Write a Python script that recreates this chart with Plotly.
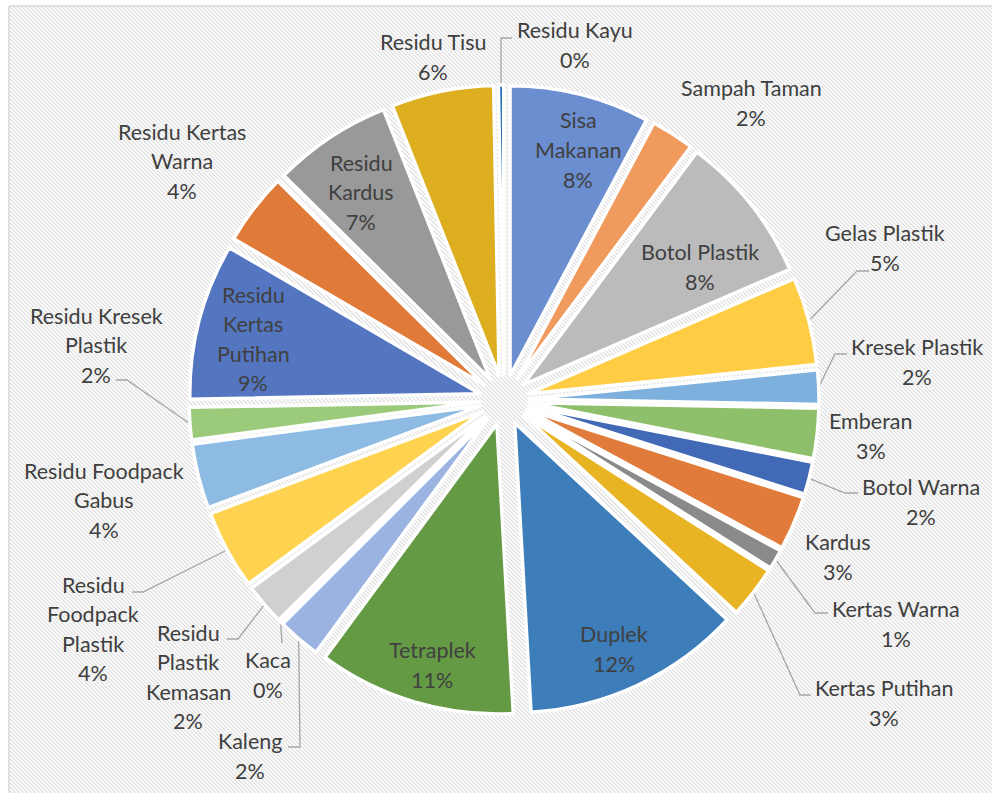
import base64
import math
import plotly.graph_objects as go

# ---------------- data ----------------
categories = [
    "Sisa Makanan", "Sampah Taman", "Botol Plastik", "Gelas Plastik", "Kresek Plastik",
    "Emberan", "Botol Warna", "Kardus", "Kertas Warna", "Kertas Putihan",
    "Duplek", "Tetraplek", "Kaleng", "Kaca", "Residu Plastik Kemasan",
    "Residu Foodpack Plastik", "Residu Foodpack Gabus", "Residu Kresek Plastik",
    "Residu Kertas Putihan", "Residu Kertas Warna", "Residu Kardus", "Residu Tisu", "Residu Kayu",
]
values = [
    7.8, 2.4, 8.3, 4.9, 1.9,
    2.8, 1.8, 3.0, 1.1, 2.9,
    12.2, 11.0, 2.4, 0.1, 2.3,
    4.4, 3.6, 1.8,
    8.7, 4.0, 6.6, 5.7, 0.3,
]

# ---------------- styles ----------------
colors = [
    "#6A8ED0", "#F19A5E", "#BBBBBB", "#FFCD44", "#7EB0DE",
    "#8EC06B", "#4169B5", "#E07B3C", "#8A8A8A", "#E8B424",
    "#3D7DBA", "#659A45", "#9BB3E0", "#F1975A", "#D0D0D0",
    "#FFD350", "#8DBBE3", "#9BCB7A",
    "#5476C0", "#E07A38", "#999999", "#DDAE20", "#2E75B6",
]

# label wrapping (name lines) - text layout only
label_lines = {
    "Sisa Makanan": ["Sisa", "Makanan"],
    "Residu Plastik Kemasan": ["Residu", "Plastik", "Kemasan"],
    "Residu Foodpack Plastik": ["Residu", "Foodpack", "Plastik"],
    "Residu Foodpack Gabus": ["Residu Foodpack", "Gabus"],
    "Residu Kresek Plastik": ["Residu Kresek", "Plastik"],
    "Residu Kertas Putihan": ["Residu", "Kertas", "Putihan"],
    "Residu Kertas Warna": ["Residu Kertas", "Warna"],
    "Residu Kardus": ["Residu", "Kardus"],
}
# label block centres (pixels)
label_pos = {
    "Sisa Makanan": (578, 150), "Sampah Taman": (751, 103), "Botol Plastik": (700, 267),
    "Gelas Plastik": (885, 248), "Kresek Plastik": (917, 362), "Emberan": (871, 436),
    "Botol Warna": (921, 502), "Kardus": (838, 557), "Kertas Warna": (896, 624),
    "Kertas Putihan": (884, 703), "Duplek": (614, 649), "Tetraplek": (432, 665),
    "Kaleng": (250, 756), "Kaca": (268, 675), "Residu Plastik Kemasan": (188, 677),
    "Residu Foodpack Plastik": (93, 629), "Residu Foodpack Gabus": (104, 500),
    "Residu Kresek Plastik": (96, 345), "Residu Kertas Putihan": (253, 339),
    "Residu Kertas Warna": (182, 161), "Residu Kardus": (361, 192),
    "Residu Tisu": (433, 57), "Residu Kayu": (575, 45),
}
# leader-line elbow / end points (pixels); start is computed from the slice
leaders = {
    "Residu Kayu": [(501, 38), (512, 38)],
    "Gelas Plastik": [(857, 271), (869, 271)],
    "Kresek Plastik": [(835, 354), (847, 354)],
    "Botol Warna": [(845, 493), (858, 493)],
    "Kertas Warna": [(815, 613), (828, 613)],
    "Kertas Putihan": [(800, 695), (811, 695)],
    "Kaleng": [(300, 747), (288, 747)],
    "Kaca": [(282, 643)],
    "Residu Plastik Kemasan": [(238, 639), (227, 639)],
    "Residu Foodpack Plastik": [(143, 592), (132, 592)],
    "Residu Kresek Plastik": [(127, 380), (116, 380)],
}

W, H = 992, 793
CX, CY = 504, 400
R_BOX = 315          # radius incl. pull (px)
PULL = 0.0862
TEXT_COLOR = "#404040"
FONT = "Lato"
FONT_SIZE = 21.5
LINE_GAP = 29.5


def px(x, y):
    return x / W, 1 - y / H


total = sum(values)
mids = []
cum = 0.0
for v in values:
    mids.append((cum + v / 2) / total * 2 * math.pi)
    cum += v

fig = go.Figure()
fig.add_trace(go.Pie(
    labels=categories, values=values, sort=False, direction="clockwise", rotation=0,
    pull=[PULL] * len(values),
    marker=dict(colors=colors, line=dict(color="white", width=3.5)),
    textinfo="none", hoverinfo="label+percent", showlegend=False,
    domain=dict(x=[(CX - R_BOX) / W, (CX + R_BOX) / W],
                y=[1 - (CY + R_BOX) / H, 1 - (CY - R_BOX) / H]),
))

# background hatch pattern
pat_w, pat_h = W - 9, H - 6
svg = (
    f'<svg xmlns="http://www.w3.org/2000/svg" width="{pat_w}" height="{pat_h}">'
    '<defs><pattern id="p" width="4" height="4" patternUnits="userSpaceOnUse">'
    '<rect width="4" height="4" fill="#ffffff"/>'
    '<path d="M-1,-1 L5,5 M-1,3 L1,5 M3,-1 L5,1" stroke="#dcdcdc" stroke-width="1.2"/>'
    '</pattern></defs>'
    f'<rect width="{pat_w}" height="{pat_h}" fill="url(#p)"/></svg>'
)
src = "data:image/svg+xml;base64," + base64.b64encode(svg.encode()).decode()
x0, y0 = px(9, 6)
fig.add_layout_image(dict(source=src, xref="paper", yref="paper", x=x0, y=y0,
                          sizex=pat_w / W, sizey=pat_h / H, xanchor="left", yanchor="top",
                          sizing="stretch", layer="below"))

shapes = []
# frame (top and left)
shapes.append(dict(type="line", xref="paper", yref="paper", x0=x0, y0=y0, x1=1, y1=y0,
                   line=dict(color="#d9d9d9", width=1.5), layer="below"))
shapes.append(dict(type="line", xref="paper", yref="paper", x0=x0, y0=y0, x1=x0, y1=0,
                   line=dict(color="#d9d9d9", width=1.5), layer="below"))

# leader lines
for cat, pts in leaders.items():
    i = categories.index(cat)
    a = mids[i]
    sx = CX + R_BOX * math.sin(a)
    sy = CY - R_BOX * math.cos(a)
    allp = [(sx, sy)] + pts
    path = ""
    for k, (x, y) in enumerate(allp):
        u, v = px(x, y)
        path += ("M" if k == 0 else " L") + f"{u:.5f},{v:.5f}"
    shapes.append(dict(type="path", xref="paper", yref="paper", path=path,
                       line=dict(color="#a6a6a6", width=1.3), layer="below"))

annotations = []
for i, cat in enumerate(categories):
    pct = int(values[i] / total * 100 + 0.5)
    lines = label_lines.get(cat, [cat]) + [f"{pct}%"]
    cx, cy = label_pos[cat]
    n = len(lines)
    for k, t in enumerate(lines):
        yy = cy + (k - (n - 1) / 2) * LINE_GAP
        u, v = px(cx, yy)
        annotations.append(dict(text=t, x=u, y=v, xref="paper", yref="paper",
                                xanchor="center", yanchor="middle", showarrow=False,
                                font=dict(family=FONT, size=FONT_SIZE, color=TEXT_COLOR)))

fig.update_layout(
    width=W, height=H, margin=dict(l=0, r=0, t=0, b=0),
    paper_bgcolor="white", plot_bgcolor="rgba(0,0,0,0)",
    shapes=shapes, annotations=annotations,
)
fig.write_html("out.html")
